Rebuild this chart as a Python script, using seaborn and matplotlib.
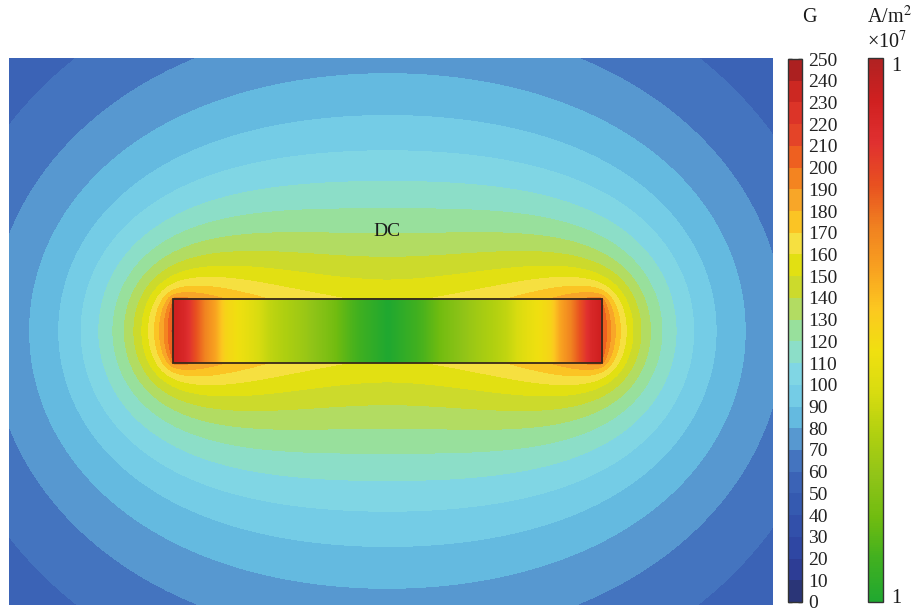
import numpy as np
import matplotlib
matplotlib.use("Agg")
import matplotlib.pyplot as plt
from matplotlib.colors import ListedColormap, BoundaryNorm, Normalize
from matplotlib.patches import Rectangle
from matplotlib.ticker import FixedLocator, FixedFormatter
import seaborn as sns

# ---- magnetic flux density scale (G), one colour per 10 G band ----
g_levels = list(range(0, 260, 10))
g_tick_labels = [str(v) for v in g_levels]
g_colors = [
    "#2a3577", "#2d3d95", "#2f47a3", "#3250aa", "#355ab0",
    "#3b63b6", "#4474bf", "#5798d0", "#64bae0", "#74cce6",
    "#80d6e4", "#8cdec8", "#98e09c", "#b2dc62", "#ccda2c",
    "#e2e012", "#f6e040", "#fbc424", "#f8a628", "#f48420",
    "#ee6020", "#e44428", "#dc3428", "#cc2822", "#ac2020",
]
g_unit = "G"

# ---- current density scale (A/m^2) ----
j_colors = ["#20a830", "#40b020", "#70bc10", "#90c418", "#b0d010", "#d8dc10",
            "#f0e010", "#fcc820", "#f8a020", "#f08020", "#e85020", "#e03030",
            "#d02020", "#b02222"]
j_limits = [1.09e7, 1.27e7]
j_ticks = [1.092e7, 1.268e7]
j_tick_labels = ["1", "1"]
j_unit = "A/m$^2$"
j_scale = "×10$^7$"

# current density across the bar: position (fraction of half-width) and level on the scale
j_pos = [0.0, 0.17, 0.27, 0.41, 0.55, 0.64, 0.757, 0.80, 0.85, 0.90, 0.944, 1.0]
j_level = [0.0, 0.10, 0.18, 0.27, 0.34, 0.42, 0.50, 0.60, 0.68, 0.78, 0.88, 0.93]

# ---- geometry (mm), bar centred on the origin ----
bar_w, bar_t = 16.76, 2.5
dom_x = [-14.80, 15.06]
dom_y = [-10.70, 10.68]
label_text = "DC"
label_y = 3.9

sns.set_theme(style="white")
plt.rcParams["font.family"] = ["Liberation Serif", "DejaVu Serif"]
plt.rcParams["mathtext.fontset"] = "stix"

# ---- field of the bar: sum of uniform-J vertical slabs (closed-form rectangle integrals) ----
mu0 = 4e-7 * np.pi
nx, ny = 520, 372
xg = np.linspace(*dom_x, nx) * 1e-3
yg = np.linspace(*dom_y, ny) * 1e-3
X, Y = np.meshgrid(xg, yg)


def prim(u, v):
    """Antiderivative of v/(u^2+v^2) in u and v."""
    r2 = u * u + v * v + 1e-30
    safe_v = np.where(v == 0, 1.0, v)
    at = np.where(v == 0, 0.0, v * np.arctan(u / safe_v))
    return 0.5 * u * np.log(r2) + at


a, b = bar_w / 2 * 1e-3, bar_t / 2 * 1e-3
n_slab = 160
edges = np.linspace(-a, a, n_slab + 1)
centres = 0.5 * (edges[:-1] + edges[1:])
J = j_limits[0] + np.interp(np.abs(centres) / a, j_pos, j_level) * (j_limits[1] - j_limits[0])

# per-edge primitives, top and bottom faces
Gx_top = np.array([prim(X - e, Y - b) for e in edges])
Gx_bot = np.array([prim(X - e, Y + b) for e in edges])
Gy_top = np.array([prim(Y - b, X - e) for e in edges])
Gy_bot = np.array([prim(Y + b, X - e) for e in edges])

Sx = (Gx_top[:-1] - Gx_top[1:]) - (Gx_bot[:-1] - Gx_bot[1:])
Sy = (Gy_top[:-1] - Gy_top[1:]) - (Gy_bot[:-1] - Gy_bot[1:])
Bx = -(mu0 / (2 * np.pi)) * np.tensordot(J, Sx, axes=1)
By = (mu0 / (2 * np.pi)) * np.tensordot(J, Sy, axes=1)
B_gauss = np.clip(np.hypot(Bx, By) * 1e4, 0, 249.9)

# ---- figure ----
fig = plt.figure(figsize=(9.17, 6.13), dpi=100)
W, H = 917, 613
ax = fig.add_axes([8.5 / W, (H - 605) / H, 764.5 / W, 547.5 / H])

g_cmap = ListedColormap(sns.color_palette(g_colors))
g_norm = BoundaryNorm(g_levels, g_cmap.N)
cs = ax.contourf(X * 1e3, Y * 1e3, B_gauss, levels=g_levels, cmap=g_cmap, norm=g_norm)

j_cmap = sns.blend_palette(j_colors, as_cmap=True)
j_norm = Normalize(*j_limits)
xs = np.linspace(-1, 1, 600)
j_img = j_limits[0] + np.interp(np.abs(xs), j_pos, j_level) * (j_limits[1] - j_limits[0])
ax.imshow(np.tile(j_img, (20, 1)), extent=[-bar_w / 2, bar_w / 2, -bar_t / 2, bar_t / 2],
          cmap=j_cmap, norm=j_norm, aspect="auto", interpolation="bilinear", zorder=3)
ax.add_patch(Rectangle((-bar_w / 2, -bar_t / 2), bar_w, bar_t, fill=False,
                       edgecolor="#3a2a1a", lw=1.3, zorder=4))
ax.text(0, label_y, label_text, ha="center", va="center", fontsize=14, color="#1a1a1a", zorder=5)
ax.set_xlim(*dom_x)
ax.set_ylim(*dom_y)
ax.set_axis_off()

# ---- flux density colour bar ----
cax1 = fig.add_axes([787.5 / W, (H - 602) / H, 14 / W, 543 / H])
cb1 = fig.colorbar(cs, cax=cax1, ticks=g_levels)
cb1.ax.set_yticklabels(g_tick_labels)
cb1.ax.tick_params(direction="in", length=3, width=1, colors="#222222", left=True, right=True,
                   labelleft=False, labelright=True, labelsize=14, pad=5)
cb1.outline.set_edgecolor("#333333")
cb1.outline.set_linewidth(1.0)
fig.text(809.5 / W, (H - 17) / H, g_unit, ha="center", va="center", fontsize=14.5, color="#1a1a1a")

# ---- current density colour bar ----
cax2 = fig.add_axes([867.5 / W, (H - 602) / H, 15 / W, 544 / H])
sm = plt.cm.ScalarMappable(norm=j_norm, cmap=j_cmap)
cb2 = fig.colorbar(sm, cax=cax2)
cb2.ax.yaxis.set_major_locator(FixedLocator(j_ticks))
cb2.ax.yaxis.set_major_formatter(FixedFormatter(j_tick_labels))
cb2.ax.tick_params(length=0, labelsize=14.5, pad=6, colors="#1a1a1a")
cb2.outline.set_edgecolor("#333333")
cb2.outline.set_linewidth(1.0)
fig.text(867 / W, (H - 17) / H, j_unit, ha="left", va="center", fontsize=14.5, color="#1a1a1a")
fig.text(867 / W, (H - 42) / H, j_scale, ha="left", va="center", fontsize=14.5, color="#1a1a1a")

fig.savefig("out.png", dpi=100, facecolor="white")
